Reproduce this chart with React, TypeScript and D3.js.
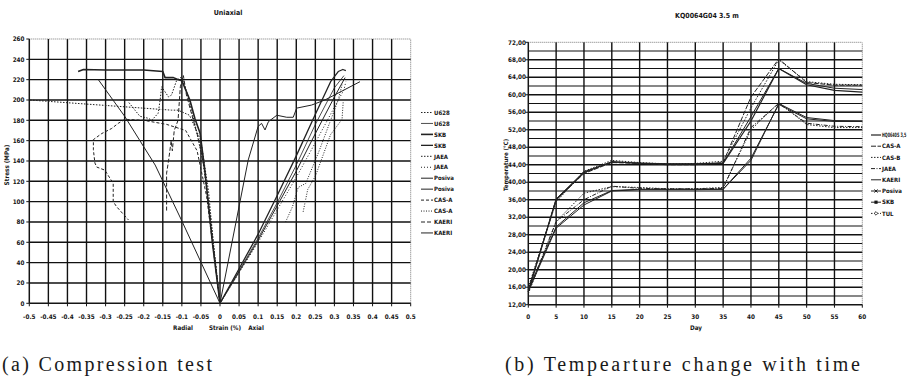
import React from 'react';
import * as d3 from 'd3';

type P = [number, number] | null;

// ---- (a) Uniaxial: strain (%) vs stress (MPa) ----
const strainTicks = d3.range(-0.5, 0.5001, 0.05).map((v) => +v.toFixed(2));
const stressTicks = d3.range(0, 261, 20);
const leftNames = ['U628', 'U628', 'SKB', 'SKB', 'JAEA', 'JAEA', 'Posiva', 'Posiva', 'CAS-A', 'CAS-A', 'KAERI', 'KAERI'];

const u628Radial: P[] = [[0, 0], [-0.015, 50], [-0.03, 110], [-0.05, 160], [-0.08, 185], [-0.11, 190], [-0.127, 190], [-0.5, 200]];
const u628Axial: P[] = [[0, 0], [0.05, 32], [0.1, 64], [0.15, 99], [0.2, 136], [0.25, 176], [0.3, 212], [0.325, 224]];
const skbRadial: P[] = [[0, 0], [-0.02, 60], [-0.039, 128], [-0.052, 167], [-0.066, 182], [-0.079, 200], [-0.1, 219], [-0.109, 220], [-0.122, 222], [-0.144, 222], [-0.15, 228], [-0.2, 229.5], [-0.3, 229.5], [-0.358, 230], [-0.372, 228]];
const skbAxial: P[] = [[0, 0], [0.05, 34], [0.1, 68], [0.15, 106], [0.2, 145], [0.25, 186], [0.29, 218], [0.31, 228], [0.322, 230], [0.33, 229]];
const jaeaRadial: P[] = [[0, 0], [-0.025, 85], [-0.045, 140], [-0.065, 175], [-0.085, 205], [-0.1, 223], [-0.114, 219], [-0.127, 205], [-0.135, 203], [-0.153, 213], [-0.157, 200], [-0.162, 187], [-0.179, 180], [-0.188, 182], [-0.21, 184], [-0.223, 190], [-0.24, 198]];
const jaeaAxial: P[] = [[0, 0], [0.05, 30], [0.1, 60], [0.15, 92], [0.2, 124], [0.25, 158], [0.3, 193], [0.325, 210], [0.33, 218]];
const posivaRadial: P[] = [[0, 0], [-0.1, 81], [-0.17, 136], [-0.25, 184], [-0.319, 220]];
const posivaAxial: P[] = [[0, 0], [0.074, 141], [0.1, 174], [0.109, 177], [0.118, 170.5], [0.127, 178.7], [0.149, 185], [0.175, 183], [0.192, 183], [0.201, 192], [0.24, 195], [0.275, 200], [0.367, 218]];
const casARadial: P[] = [[0, 0], [-0.035, 105], [-0.06, 150], [-0.09, 170], [-0.14, 176], [-0.2, 180], [-0.249, 181], [-0.267, 177], [-0.284, 172], [-0.31, 167], [-0.332, 161], [-0.332, 151], [-0.328, 138], [-0.323, 134], [-0.302, 131], [-0.28, 118], [-0.28, 100], [-0.271, 95], [-0.24, 82]];
const casAAxial: P[] = [[0.172, 80], [0.19, 95], [0.205, 114], [0.225, 118], [0.26, 150], [0.29, 180], [0.31, 200], [0.32, 215], null, [0.218, 90], [0.23, 112], [0.25, 125], [0.29, 166], [0.32, 181], [0.323, 198]];
const kaeriRadial: P[] = [[0, 0], [-0.02, 65], [-0.04, 130], [-0.055, 160], [-0.07, 180], [-0.088, 205], [-0.096, 224], [-0.104, 213], [-0.11, 180], [-0.12, 170], [-0.125, 150], [-0.128, 160], [-0.135, 140], [-0.14, 128], [-0.14, 90]];
const kaeriAxial: P[] = [[0, 0], [0.05, 31], [0.1, 62], [0.15, 96], [0.2, 130], [0.25, 167], [0.3, 203], [0.328, 222]];

const leftSeries = [u628Radial, u628Axial, skbRadial, skbAxial, jaeaRadial, jaeaAxial, posivaRadial, posivaAxial, casARadial, casAAxial, kaeriRadial, kaeriAxial];
const leftStyles = [
  { w: 1, dash: '1.5,1.5' }, { w: 0.8, dash: '' }, { w: 1.6, dash: '' }, { w: 1.3, dash: '' },
  { w: 1, dash: '1.5,1.5' }, { w: 1, dash: '1,2' }, { w: 1, dash: '' }, { w: 1, dash: '' },
  { w: 1, dash: '3,2' }, { w: 1, dash: '1,1.5' }, { w: 1, dash: '4,2' }, { w: 1, dash: '' },
];

// ---- (b) Temperature vs day ----
const days = [0, 5, 10, 15, 20, 25, 30, 35, 40, 45, 50, 55, 60];
const dayTicks = d3.range(0, 61, 5);
const tempTicks = d3.range(12, 73, 4);
const rightNames = ['HQ0640S 3,5', 'CAS-A', 'CAS-B', 'JAEA', 'KAERI', 'Posiva', 'SKB', 'TUL'];
const measured = [15, 36, 42.2, 44.7, 44.3, 44.2, 44.2, 44.3, 54, 66, 62.3, 61, 60.6];
const casA = [15.5, 36, 42, 44.5, 44.3, 44, 44, 44.5, 59.5, 68.2, 62.8, 62.2, 62.2];
const casB = [16, 35.5, 42.5, 45, 44.5, 44.2, 44.3, 44.8, 57, 68, 63, 62.4, 62.3];
const jaea = [15, 31, 36, 39.1, 38.6, 38.5, 38.5, 38.6, 52.5, 58, 53.5, 52.8, 52.7];
const kaeri = [15, 29.5, 34.8, 38, 38.3, 38.3, 38.3, 38.4, 45, 58, 54.8, 54.1, 54];
const posiva = [15.5, 29.8, 35.3, 38.1, 38.4, 38.4, 38.4, 38.4, 45.5, 57.8, 54.5, 53.9, 53.9];
const skb = [15, 36.2, 42.4, 44.6, 44.4, 44.2, 44.2, 44.4, 55, 66, 62.6, 61.5, 61.2];
const tul = [14.5, 31, 37.5, 39, 38.8, 38.5, 38.5, 38.8, 52, 58.2, 53.2, 52.5, 52.5];
const rightSeries = [measured, casA, casB, jaea, kaeri, posiva, skb, tul];
const rightStyles = [
  { w: 1.2, dash: '', m: '' }, { w: 1, dash: '5,1.5', m: '' }, { w: 1, dash: '1.5,1.5', m: '' },
  { w: 1, dash: '4,1.5,1,1.5', m: '' }, { w: 1, dash: '', m: '' }, { w: 1, dash: '', m: 'x' },
  { w: 1, dash: '', m: 's' }, { w: 1, dash: '1.5,1.5', m: 'd' },
];

const ink = '#151515';
const gridInk = '#111';
const lab = { fontFamily: 'Liberation Sans Narrow, DejaVu Sans Condensed, sans-serif', fontWeight: 700 } as const;

function Marker({ kind, x, y }: { kind: string; x: number; y: number }) {
  if (kind === 's') return <rect x={x - 1.6} y={y - 1.6} width={3.2} height={3.2} fill={ink} />;
  if (kind === 'd') return <path d={`M${x},${y - 1.8}L${x + 1.8},${y}L${x},${y + 1.8}L${x - 1.8},${y}Z`} fill="#fff" stroke={ink} strokeWidth={0.8} />;
  if (kind === 'x') return <path d={`M${x - 1.6},${y - 1.6}L${x + 1.6},${y + 1.6}M${x - 1.6},${y + 1.6}L${x + 1.6},${y - 1.6}`} stroke={ink} strokeWidth={0.9} />;
  return null;
}

export default function App() {
  const xL = d3.scaleLinear().domain([-0.5, 0.5]).range([29.3, 410.7]);
  const yL = d3.scaleLinear().domain([0, 260]).range([303.3, 39]);
  const xR = d3.scaleLinear().domain([0, 60]).range([528.3, 862.3]);
  const yR = d3.scaleLinear().domain([12, 72]).range([304.7, 42.3]);

  const lineL = d3.line<P>().defined((d) => d !== null).x((d) => xL(d![0])).y((d) => yL(d![1]));
  const lineR = d3.line<number>().x((_, i) => xR(days[i])).y((d) => yR(d));

  const tempGrid = d3.range(14, 72, 2);
  const fmtS = (v: number) => (v === 0 ? '0' : String(v));

  return (
    <div style={{ position: 'absolute', left: 0, top: 0 }}>
      <svg width={911} height={377} style={{ display: 'block', background: '#fff' }}>
        {/* ---------- left chart ---------- */}
        <text x={228} y={15} textAnchor="middle" fontSize={7} {...lab} fill={ink}>Uniaxial</text>
        {strainTicks.slice(1, -1).map((t) => (
          <line key={'gv' + t} x1={xL(t)} x2={xL(t)} y1={yL(0)} y2={yL(260)} stroke={gridInk} strokeWidth={1.4} />
        ))}
        {stressTicks.slice(1, -1).map((t) => (
          <line key={'gh' + t} x1={xL(-0.5)} x2={xL(0.5)} y1={yL(t)} y2={yL(t)} stroke={gridInk} strokeWidth={1.4} />
        ))}
        <line x1={xL(-0.5)} x2={xL(0.5)} y1={yL(260)} y2={yL(260)} stroke="#555" strokeWidth={0.8} strokeDasharray="1,1" />
        <line x1={xL(0.5)} x2={xL(0.5)} y1={yL(0)} y2={yL(260)} stroke="#555" strokeWidth={0.8} strokeDasharray="1,1" />
        <line x1={xL(-0.5)} x2={xL(0.5)} y1={yL(0)} y2={yL(0)} stroke={ink} strokeWidth={1.5} />
        <line x1={xL(-0.5)} x2={xL(-0.5)} y1={yL(0)} y2={yL(260)} stroke={ink} strokeWidth={1.5} />
        {strainTicks.map((t) => (
          <g key={'xt' + t}>
            <line x1={xL(t)} x2={xL(t)} y1={yL(0)} y2={yL(0) + 3} stroke={ink} strokeWidth={1} />
            <text x={xL(t)} y={318.5} textAnchor="middle" fontSize={6.3} {...lab} fill={ink}>{fmtS(t)}</text>
          </g>
        ))}
        {stressTicks.map((t) => (
          <g key={'yt' + t}>
            <line x1={xL(-0.5) - 3} x2={xL(-0.5)} y1={yL(t)} y2={yL(t)} stroke={ink} strokeWidth={1} />
            <text x={24.5} y={yL(t) + 2.2} textAnchor="end" fontSize={6.3} {...lab} fill={ink}>{t}</text>
          </g>
        ))}
        <text x={183} y={330} textAnchor="middle" fontSize={6.3} {...lab} fill={ink}>Radial</text>
        <text x={225} y={330} textAnchor="middle" fontSize={6.3} {...lab} fill={ink}>Strain (%)</text>
        <text x={256} y={330} textAnchor="middle" fontSize={6.3} {...lab} fill={ink}>Axial</text>
        <text transform="translate(9,165) rotate(-90)" textAnchor="middle" fontSize={6.3} {...lab} fill={ink}>Stress (MPa)</text>
        {leftSeries.map((s, i) => (
          <path key={'ls' + i} d={lineL(s) || ''} fill="none" stroke="#222" strokeWidth={leftStyles[i].w} strokeDasharray={leftStyles[i].dash} strokeLinejoin="round" />
        ))}
        {leftNames.map((n, i) => {
          const y = 112.5 + i * 10.95;
          return (
            <g key={'ll' + i}>
              <line x1={421} x2={433} y1={y} y2={y} stroke="#222" strokeWidth={leftStyles[i].w} strokeDasharray={leftStyles[i].dash} />
              <text x={434} y={y + 2.2} fontSize={6} {...lab} fill={ink}>{n}</text>
            </g>
          );
        })}

        {/* ---------- right chart ---------- */}
        <text x={707} y={18} textAnchor="middle" fontSize={7} {...lab} fill={ink}>KQ0064G04 3.5 m</text>
        {dayTicks.slice(1, -1).map((t) => (
          <line key={'rv' + t} x1={xR(t)} x2={xR(t)} y1={yR(12)} y2={yR(72)} stroke={gridInk} strokeWidth={1.4} />
        ))}
        {tempGrid.map((t) => (
          <line key={'rh' + t} x1={xR(0)} x2={xR(60)} y1={yR(t)} y2={yR(t)} stroke={gridInk} strokeWidth={t % 4 === 0 ? 1.4 : 1.15} />
        ))}
        <line x1={xR(0)} x2={xR(60)} y1={yR(72)} y2={yR(72)} stroke="#555" strokeWidth={0.8} strokeDasharray="1,1" />
        <line x1={xR(60)} x2={xR(60)} y1={yR(12)} y2={yR(72)} stroke="#555" strokeWidth={0.8} strokeDasharray="1,1" />
        <line x1={xR(0)} x2={xR(60)} y1={yR(12)} y2={yR(12)} stroke={ink} strokeWidth={1.5} />
        <line x1={xR(0)} x2={xR(0)} y1={yR(12)} y2={yR(72)} stroke={ink} strokeWidth={1.5} />
        {dayTicks.map((t) => (
          <g key={'dx' + t}>
            <line x1={xR(t)} x2={xR(t)} y1={yR(12)} y2={yR(12) + 3} stroke={ink} strokeWidth={1} />
            <text x={xR(t)} y={318.5} textAnchor="middle" fontSize={6.3} {...lab} fill={ink}>{t}</text>
          </g>
        ))}
        {tempTicks.map((t) => (
          <g key={'ty' + t}>
            <line x1={xR(0) - 3} x2={xR(0)} y1={yR(t)} y2={yR(t)} stroke={ink} strokeWidth={1} />
            <text x={526} y={yR(t) + 2.2} textAnchor="end" fontSize={6.3} {...lab} fill={ink}>{t.toFixed(2).replace('.', ',')}</text>
          </g>
        ))}
        <text x={696} y={330} textAnchor="middle" fontSize={6.3} {...lab} fill={ink}>Day</text>
        <text transform="translate(508,165) rotate(-90)" textAnchor="middle" fontSize={6} {...lab} fill={ink}>Temperature (°C)</text>
        {rightSeries.map((s, i) => (
          <path key={'rs' + i} d={lineR(s) || ''} fill="none" stroke="#222" strokeWidth={rightStyles[i].w} strokeDasharray={rightStyles[i].dash} strokeLinejoin="round" />
        ))}
        {rightNames.map((n, i) => {
          const y = 135 + i * 11.2;
          return (
            <g key={'rl' + i}>
              <line x1={871} x2={881} y1={y} y2={y} stroke="#222" strokeWidth={rightStyles[i].w} strokeDasharray={rightStyles[i].dash} />
              <Marker kind={rightStyles[i].m} x={876} y={y} />
              <text transform={`translate(882,${y + 2.2}) scale(${n.length > 8 ? 0.62 : 1},1)`} fontSize={6} {...lab} fill={ink}>{n}</text>
            </g>
          );
        })}

        {/* ---------- captions ---------- */}
        <text x={2} y={371} fontSize={20} fontFamily="Liberation Serif, DejaVu Serif, serif" fill="#1a1a1a" textLength={210} lengthAdjust="spacing">(a) Compression test</text>
        <text x={505} y={371} fontSize={20} fontFamily="Liberation Serif, DejaVu Serif, serif" fill="#1a1a1a" textLength={355} lengthAdjust="spacing">(b) Tempearture change with time</text>
      </svg>
    </div>
  );
}
